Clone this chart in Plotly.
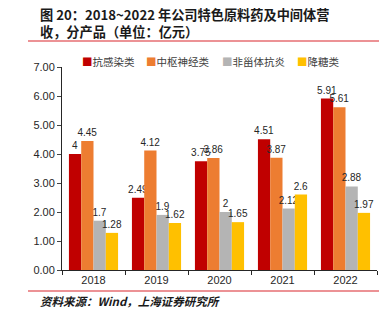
import plotly.graph_objects as go

years = ["2018", "2019", "2020", "2021", "2022"]
series_names = ["抗感染类", "中枢神经类", "非甾体抗炎", "降糖类"]
anti_infective = [4.00, 2.49, 3.75, 4.51, 5.91]
cns = [4.45, 4.12, 3.86, 3.87, 5.61]
nsaid = [1.70, 1.90, 2.00, 2.12, 2.88]
diabetes = [1.28, 1.62, 1.65, 2.60, 1.97]
colors = ["#C00000", "#ED7D31", "#B4B4B4", "#FFC000"]
y_ticks = [0, 1, 2, 3, 4, 5, 6, 7]

def lab(v):
    s = ("%.2f" % v).rstrip("0").rstrip(".")
    return s

fig = go.Figure()
for name, vals, c in zip(series_names, [anti_infective, cns, nsaid, diabetes], colors):
    fig.add_trace(go.Bar(
        x=years, y=vals, name=name, marker_color=c, marker_line_width=0,
        text=[lab(v) for v in vals], textposition="outside", cliponaxis=False,
        constraintext="none", showlegend=False,
        textfont=dict(size=10, color="#262626", family="Liberation Sans"),
    ))

W, H = 385, 322
l, r, t, b = 62, 8, 67, 52
pw, ph = W - l - r, H - t - b

def px_x(x):
    return (x - l) / pw

def px_y(y):
    return (H - b - y) / ph

# manual legend (one row)
legend_x = [80, 144, 220, 295]
legend_anns = [
    dict(text=f"<span style='color:{c}'>■</span>{n}", xref="paper", yref="paper",
         x=px_x(lx), y=px_y(61), xanchor="left", yanchor="middle", showarrow=False,
         font=dict(size=10.5, family="Noto Sans CJK SC", color="#404040"))
    for n, c, lx in zip(series_names, colors, legend_x)
]

fig.update_layout(
    width=W, height=H, margin=dict(l=l, r=r, t=t, b=b),
    paper_bgcolor="white", plot_bgcolor="white",
    barmode="group", bargap=0.22, bargroupgap=0,
    font=dict(family="Liberation Sans, Noto Sans CJK SC", size=11, color="#262626"),
    showlegend=False,
    xaxis=dict(showline=True, linecolor="#262626", linewidth=1, ticks="outside",
               tickson="boundaries", ticklen=4, tickcolor="#262626",
               tickfont=dict(size=11, color="#262626")),
    yaxis=dict(range=[0, 7], tickvals=y_ticks, tickformat=".2f", showline=True,
               linecolor="#262626", linewidth=1, ticks="outside", ticklen=4,
               showgrid=False, zeroline=False, tickfont=dict(size=11, color="#262626")),
    shapes=[
        dict(type="line", xref="paper", yref="paper", x0=px_x(28), x1=px_x(379),
             y0=px_y(41), y1=px_y(41), line=dict(color="#D9262C", width=1.2)),
        dict(type="line", xref="paper", yref="paper", x0=px_x(28), x1=px_x(379),
             y0=px_y(291), y1=px_y(291), line=dict(color="#D9262C", width=1.2)),
    ],
    annotations=[
        dict(text="<b>图 20：2018~2022 年公司特色原料药及中间体营<br>收，分产品（单位：亿元）</b>",
             xref="paper", yref="paper", x=px_x(38), y=px_y(3), xanchor="left", yanchor="top",
             align="left", showarrow=False,
             font=dict(size=13.2, family="Noto Sans CJK SC", color="#1a1a1a")),
        dict(text="<b><i>资料来源：Wind，上海证券研究所</i></b>",
             xref="paper", yref="paper", x=px_x(38), y=px_y(301), xanchor="left", yanchor="middle",
             showarrow=False, font=dict(size=11.5, family="Noto Sans CJK SC", color="#1a1a1a")),
    ] + legend_anns,
)

fig.write_html("out.html")
